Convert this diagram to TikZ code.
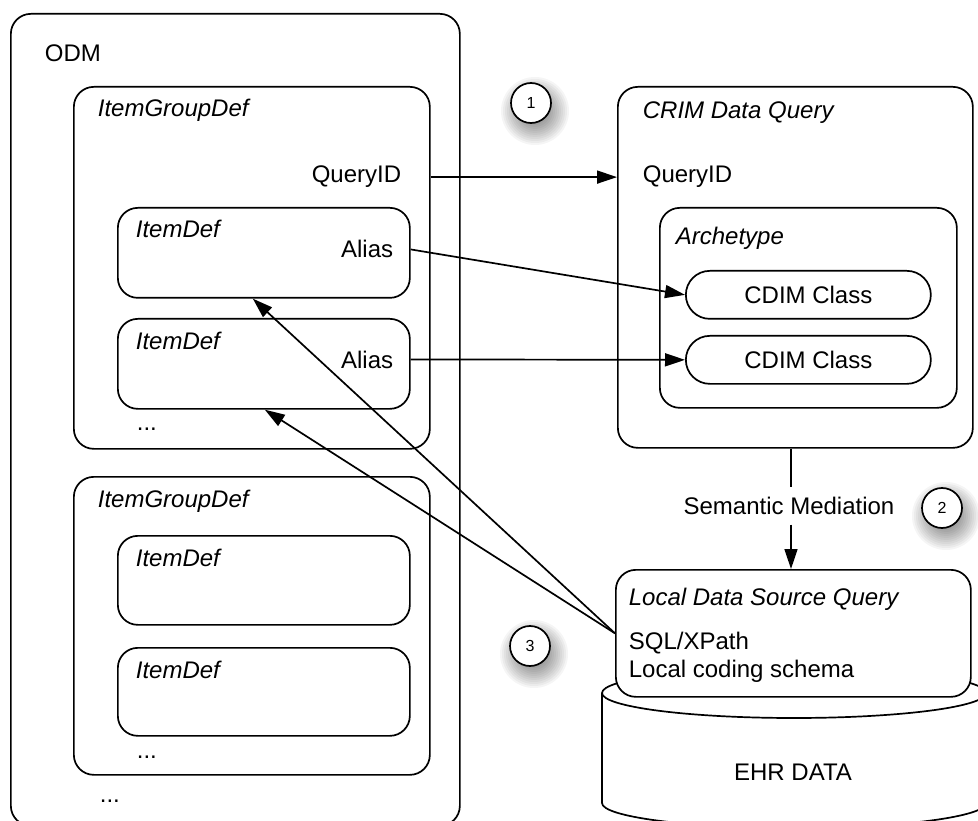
\documentclass[tikz,border=0pt]{standalone}
\usepackage{fontspec}
\setmainfont{Liberation Sans}
\usetikzlibrary{arrows.meta}
\begin{document}
\begin{tikzpicture}[x=1pt,y=-1pt,line width=1.7pt,
  box/.style={draw,rounded corners=20pt,anchor=north west,inner sep=0pt,fill=white},
  pill/.style={draw,rounded corners=24pt,anchor=north west,inner sep=0pt,fill=white,
     minimum width=245pt,minimum height=48pt,font=\fontsize{24}{28}\selectfont},
  lbl/.style={anchor=base west,inner sep=0pt,font=\fontsize{24}{28}\selectfont},
  lblr/.style={anchor=base east,inner sep=0pt,font=\fontsize{24}{28}\selectfont},
  ital/.style={lbl,font=\fontsize{24}{28}\selectfont\itshape},
  arr/.style={-{Triangle[length=20pt,width=13pt]}},
  numc/.style={circle,draw,fill=white,minimum size=40pt,inner sep=0pt,
     font=\fontsize{16}{18}\selectfont},
  shade/.style={fill=black,opacity=0.04}]
\useasboundingbox (0,0) rectangle (978,821);
\fill[white] (0,0) rectangle (978,821);

% ODM side
\node[box,minimum width=449pt,minimum height=812pt] (odm) at (10,13) {};
\node[lbl] (odmt) at (44,62) {ODM};
\node[box,minimum width=356pt,minimum height=362pt] (igd1) at (73,86) {};
\node[ital] (igd1t) at (97,117) {ItemGroupDef};
\node[lblr] (qidL) at (402,183) {QueryID};
\node[box,minimum width=292pt,minimum height=90pt] (id1) at (117,207) {};
\node[ital] (id1t) at (135,238) {ItemDef};
\node[lblr] (aliasA) at (394,258) {Alias};
\node[box,minimum width=292pt,minimum height=90pt] (id2) at (117,318) {};
\node[ital] (id2t) at (135,349) {ItemDef};
\node[lblr] (aliasB) at (394,368) {Alias};
\node[lbl] (dots1) at (136,430) {...};

\node[box,minimum width=356pt,minimum height=298pt] (igd2) at (73,476) {};
\node[ital] (igd2t) at (97,507) {ItemGroupDef};
\node[box,minimum width=292pt,minimum height=89pt] (id3) at (117,535) {};
\node[ital] (id3t) at (135,566) {ItemDef};
\node[box,minimum width=292pt,minimum height=88pt] (id4) at (117,647) {};
\node[ital] (id4t) at (135,678) {ItemDef};
\node[lbl] (dots2) at (136,758) {...};
\node[lbl] (dots3) at (99,802) {...};

% CRIM side
\node[box,minimum width=355pt,minimum height=361pt] (crim) at (617,86) {};
\node[ital] (crimt) at (642,119) {CRIM Data Query};
\node[lbl] (qidR) at (642,183) {QueryID};
\node[box,minimum width=297pt,minimum height=200pt] (arch) at (659,207) {};
\node[ital] (archt) at (675,245) {Archetype};
\node[pill] (cdim1) at (685,270) {CDIM Class};
\node[pill] (cdim2) at (685,335) {CDIM Class};

% EHR cylinder
\fill[white] (602,693) -- (602,803) arc[start angle=180,end angle=0,x radius=192,y radius=25]
  -- (986,693) -- cycle;
\draw (602,693) -- (602,803) arc[start angle=180,end angle=0,x radius=192,y radius=25];
\draw (986,693) -- (986,803);
\draw (794,693) ellipse[x radius=192,y radius=25];
\node[anchor=base,inner sep=0pt,font=\fontsize{24}{28}\selectfont] (ehr) at (793,780) {EHR DATA};

% Local data source query
\node[box,minimum width=355pt,minimum height=127pt] (local) at (615,569) {};
\node[ital] (localt) at (628,605) {Local Data Source Query};
\node[lbl] (sqlt) at (628,649) {SQL/XPath};
\node[lbl] (codt) at (628,677) {Local coding schema};

% numbered circles with soft shadows
\coordinate (p1) at (531,103);
\coordinate (p2) at (942,508);
\coordinate (p3) at (530,646);
\foreach \p in {p1,p2,p3}{
  \foreach \k in {1,...,12}{
    \fill[shade] ([shift={(4,8)}]\p) circle ({10+2*\k});
  }
}
\node[numc] (n1) at (p1) {1};
\node[numc] (n2) at (p2) {2};
\node[numc] (n3) at (p3) {3};

% semantic mediation
\node[font=\fontsize{24}{28}\selectfont,inner xsep=0pt,inner ysep=9pt] (sem) at (789,506) {Semantic Mediation};

% connectors
\draw[arr] (qidL.center -| igd1.east) -- (qidL.center -| crim.west);
\draw[arr] (aliasA.center -| id1.east) -- (cdim1.west);
\draw[arr] (aliasB.center -| id2.east) -- (cdim2.west);
\draw (crim.south -| 791,0) -- (sem.north -| 791,0);
\draw[arr] (sem.south -| 791,0) -- (local.north -| 791,0);
\draw[arr] (local.west) -- ([xshift=-11pt]id1.south);
\draw[arr] (local.west) -- ([xshift=1pt]id2.south);
\end{tikzpicture}
\end{document}
